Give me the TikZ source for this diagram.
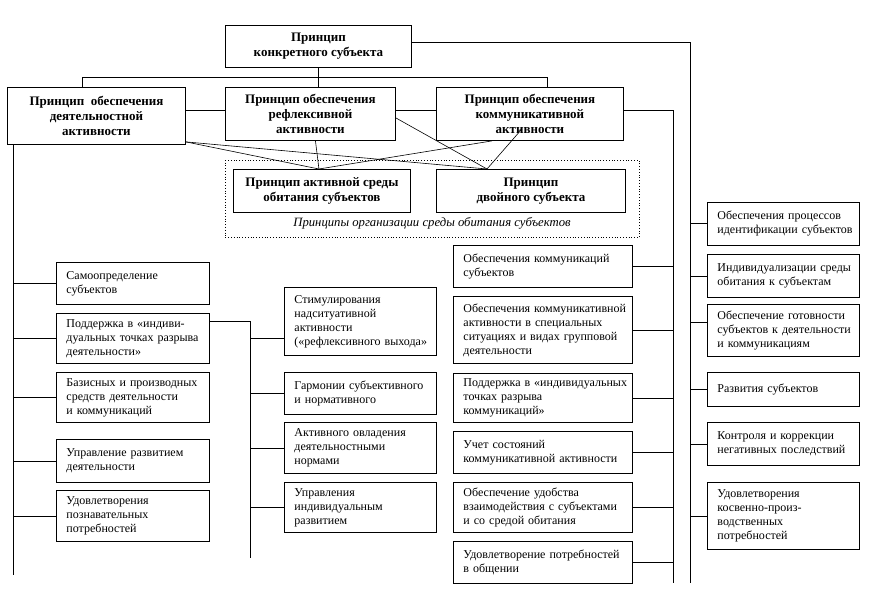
\documentclass[tikz,border=0pt]{standalone}
\usepackage{fontspec}
\setmainfont{Liberation Serif}
\usetikzlibrary{calc}
\begin{document}
\begin{tikzpicture}[x=1pt,y=-1pt,
  ln/.style={line width=0.9pt},
  box/.style={draw, line width=0.9pt, anchor=north west, inner sep=0pt, align=left, font=\fontsize{12}{14}\selectfont},
  cL/.style={box, minimum width=153pt, text width=133pt},
  cM/.style={box, minimum width=152pt, text width=132pt},
  cC/.style={box, minimum width=179pt, text width=159pt},
  cR/.style={box, minimum width=152pt, text width=132pt},
  pbox/.style={draw, line width=0.9pt, anchor=north west, inner sep=0pt, align=center, font=\bfseries\fontsize{13}{15}\selectfont},
  grpbox/.style={draw, dotted, line width=0.8pt, anchor=north west, inner sep=0pt},
  captext/.style={font=\itshape\fontsize{12.7}{14}\selectfont, inner sep=0pt}
]
\useasboundingbox (0,0) rectangle (870,596);

% principle boxes
\node[pbox, minimum width=186pt, minimum height=42pt] (top) at (225,25) {Принцип\\конкретного субъекта};
\node[pbox, minimum width=178pt, minimum height=57pt] (L0) at (7,87) {Принцип\ \ обеспечения\\деятельностной\\активности};
\node[pbox, minimum width=170pt, minimum height=53pt] (M0) at (225,87) {Принцип обеспечения\\рефлексивной\\активности};
\node[pbox, minimum width=187pt, minimum height=53pt] (R0) at (436,87) {Принцип обеспечения\\коммуникативной\\активности};

\node[grpbox, minimum width=414pt, minimum height=77pt] (grp) at (225,160) {};
\node[pbox, minimum width=177pt, minimum height=43pt] (A) at (233,169) {Принцип активной среды\\обитания субъектов};
\node[pbox, minimum width=189pt, minimum height=43pt] (D) at (436,169) {Принцип\\двойного субъекта};
\node[captext] (cap) at (432,223) {Принципы организации среды обитания субъектов};

% left column
\node[cL, minimum height=42pt] (l1) at (56,262) {Самоопределение\\субъектов};
\node[cL, minimum height=50pt] (l2) at (56,313) {Поддержка~в~«индиви-\\дуальных~точках~разрыва\\деятельности»};
\node[cL, minimum height=50pt] (l3) at (56,372) {Базисных~и~производных\\средств~деятельности\\и~коммуникаций};
\node[cL, minimum height=43pt] (l4) at (56,439) {Управление~развитием\\деятельности};
\node[cL, minimum height=51pt] (l5) at (56,490) {Удовлетворения\\познавательных\\потребностей};

% middle column
\node[cM, minimum height=68pt] (m1) at (284,287) {Стимулирования\\надситуативной\\активности\\(«рефлексивного~выхода»};
\node[cM, minimum height=42pt] (m2) at (284,372) {Гармонии~субъективного\\и~нормативного};
\node[cM, minimum height=51pt] (m3) at (284,422) {Активного~овладения\\деятельностными\\нормами};
\node[cM, minimum height=50pt] (m4) at (284,482) {Управления\\индивидуальным\\развитием};

% centre-right column
\node[cC, minimum height=42pt] (c1) at (453,245) {Обеспечения~коммуникаций\\субъектов};
\node[cC, minimum height=67pt] (c2) at (453,296) {Обеспечения~коммуникативной\\активности~в~специальных\\ситуациях~и~видах~групповой\\деятельности};
\node[cC, minimum height=49pt] (c3) at (453,373) {Поддержка~в~«индивидуальных\\точках~разрыва\\коммуникаций»};
\node[cC, minimum height=42pt] (c4) at (453,431) {Учет~состояний\\коммуникативной~активности};
\node[cC, minimum height=50pt] (c5) at (453,482) {Обеспечение~удобства\\взаимодействия~с~субъектами\\и~со~средой~обитания};
\node[cC, minimum height=42pt] (c6) at (453,541) {Удовлетворение~потребностей\\в~общении};

% right column
\node[cR, minimum height=43pt] (r1) at (707,202) {Обеспечения~процессов\\идентификации~субъектов};
\node[cR, minimum height=43pt] (r2) at (707,254) {Индивидуализации~среды\\обитания~к~субъектам};
\node[cR, minimum height=52pt] (r3) at (707,304) {Обеспечение~готовности\\субъектов~к~деятельности\\и~коммуникациям};
\node[cR, minimum height=34pt] (r4) at (707,372) {Развития~субъектов};
\node[cR, minimum height=43pt] (r5) at (707,422) {Контроля~и~коррекции\\негативных~последствий};
\node[cR, minimum height=67pt] (r6) at (707,482) {Удовлетворения\\косвенно-произ-\\водственных\\потребностей};

% junction coordinates
\coordinate (hl) at (82,77);
\coordinate (hr) at (547,77);
\coordinate (hy) at (0,110);
\coordinate (rt) at (690,42);
\coordinate (rb) at (690,583);
\coordinate (cvt) at (673,110);
\coordinate (cvb) at (673,583);
\coordinate (lvb) at (13,575);
\coordinate (mvt) at (250,321);
\coordinate (mvb) at (250,558);

% top-level connectors
\draw[ln] (top.south) -- (M0.north -| top.south);
\draw[ln] (L0.north -| hl) -- (hl) -- (hr) -- (R0.north -| hr);
\draw[ln] (top.east |- rt) -- (rt) -- (rb);
\draw[ln] (L0.east |- hy) -- (M0.west |- hy);
\draw[ln] (M0.east |- hy) -- (R0.west |- hy);
\draw[ln] (R0.east |- hy) -- (cvt) -- (cvb);
\draw[ln] (L0.south -| lvb) -- (lvb);
\draw[ln] (l2.east |- mvt) -- (mvt) -- (mvb);

% stubs
\foreach \n in {l1,l2,l3,l4,l5} \draw[ln] (\n.west) -- (\n.west -| lvb);
\coordinate (m1s) at ($(m1.west)+(0,17)$);
\draw[ln] (m1s) -- (m1s -| mvb);
\foreach \n in {m2,m3,m4} \draw[ln] (\n.west) -- (\n.west -| mvb);
\foreach \n in {c1,c2,c3,c4,c5,c6} \draw[ln] (\n.east) -- (\n.east -| cvb);
\coordinate (r3s) at ($(r3.west)+(0,-8)$);
\draw[ln] (r3s) -- (r3s -| rb);
\foreach \n in {r1,r2,r4,r5,r6} \draw[ln] (\n.west) -- (\n.west -| rb);

% crossing lines to the environment principles
\coordinate (pa) at ($(A.north)+(-3,0)$);
\coordinate (pd) at ($(D.north west)+(51,0)$);
\draw[line width=0.6pt] ($(L0.south east)+(0,-3)$) -- (pa);
\draw[line width=0.6pt] ($(L0.south east)+(0,-3)$) -- (pd);
\draw[line width=0.6pt] ($(M0.south)+(5,0)$) -- (pa);
\draw[line width=0.6pt] ($(M0.east)+(0,4)$) -- (pd);
\draw[line width=0.6pt] ($(R0.south west)+(56,0)$) -- (pa);
\draw[line width=0.6pt] ($(R0.south west)+(86,-12)$) -- (pd);
\end{tikzpicture}
\end{document}
